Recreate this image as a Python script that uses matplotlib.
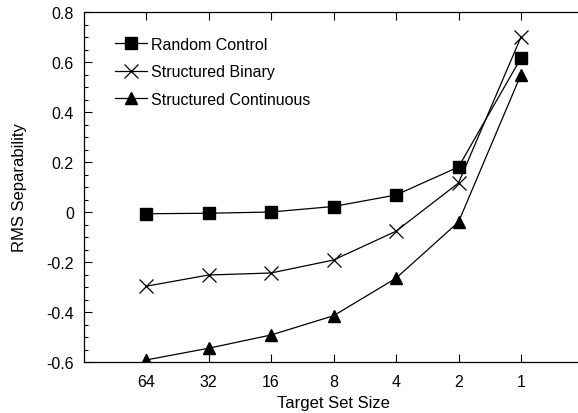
import matplotlib
matplotlib.use("Agg")
import matplotlib.pyplot as plt
from matplotlib.ticker import MultipleLocator

categories = ["64", "32", "16", "8", "4", "2", "1"]
random_control = [-0.007, -0.005, 0.0, 0.022, 0.068, 0.18, 0.616]
structured_binary = [-0.297, -0.252, -0.244, -0.192, -0.077, 0.116, 0.70]
structured_continuous = [-0.592, -0.545, -0.492, -0.415, -0.265, -0.04, 0.55]
yticks = [-0.6, -0.4, -0.2, 0, 0.2, 0.4, 0.6, 0.8]
ytick_labels = ['-0.6', '-0.4', '-0.2', '0', '0.2', '0.4', '0.6', '0.8']

plt.rcParams['font.family'] = ['Liberation Sans', 'DejaVu Sans']
fig = plt.figure(figsize=(5.78, 4.14), dpi=100)
ax = fig.add_axes([83.5/578, 51/414, 500/578, 350/414])

x = list(range(len(categories)))
ax.plot(x, random_control, color='black', lw=0.9, marker='s', markersize=9,
        label='Random Control')
ax.plot(x, structured_binary, color='black', lw=0.9, marker='x', markersize=9.5,
        markeredgewidth=0.9, label='Structured Binary')
ax.plot(x, structured_continuous, color='black', lw=0.9, marker='^', markersize=9,
        label='Structured Continuous')

ax.set_xlim(-1, 7)
ax.set_ylim(-0.6, 0.8)
ax.set_xticks(x)
ax.set_xticklabels(categories)
ax.set_yticks(yticks)
ax.set_yticklabels(ytick_labels)
ax.yaxis.set_minor_locator(MultipleLocator(0.05))
ax.tick_params(axis='both', which='major', direction='in', length=6, width=0.8,
               labelsize=11.5, top=True)
ax.tick_params(axis='x', which='major', pad=9)
ax.tick_params(axis='y', which='major', pad=7)
ax.tick_params(axis='y', which='minor', direction='in', length=3, width=0.8)
for s in ax.spines.values():
    s.set_linewidth(0.9)

ax.set_xlabel('Target Set Size', fontsize=12, labelpad=4)
ax.set_ylabel('RMS Separability', fontsize=12, labelpad=14)

leg = ax.legend(loc='upper left', frameon=False, fontsize=11.5, handlelength=2.0,
                handletextpad=0.25, labelspacing=0.78, bbox_to_anchor=(0.035, 0.97))

fig.savefig('out.png', dpi=100)
